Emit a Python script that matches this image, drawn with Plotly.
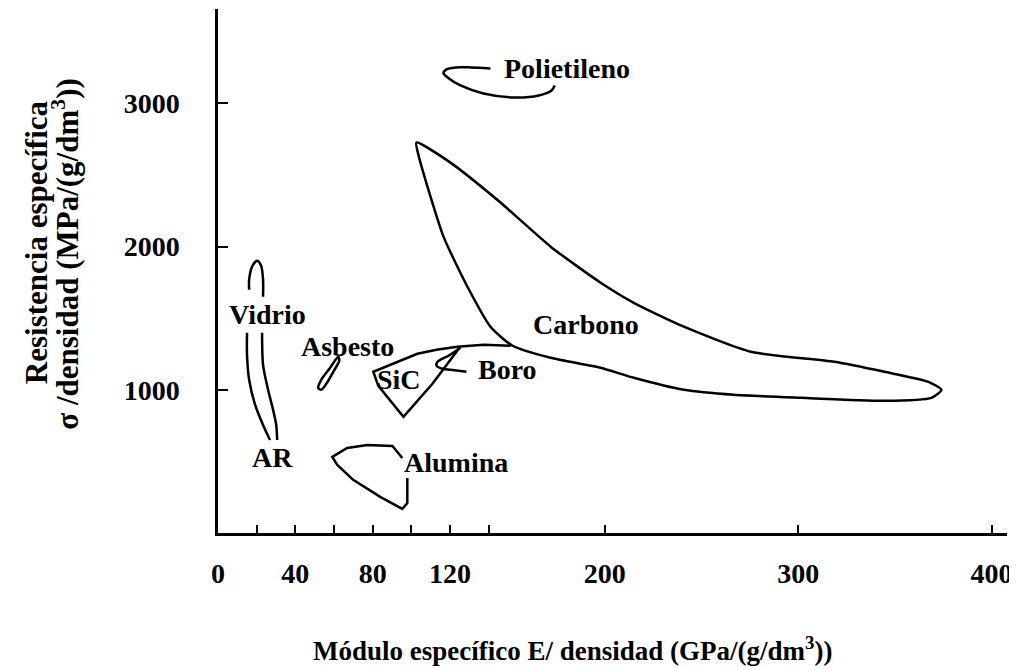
import plotly.graph_objects as go

# ---------------- data ----------------
x_tick_vals = [0, 40, 80, 120, 200, 300, 400]
x_tick_text = ["0", "40", "80", "120", "200", "300", "400"]
x_minor_vals = [20, 60, 100, 140]
y_tick_vals = [1000, 2000, 3000]
y_tick_text = ["1000", "2000", "3000"]

polietileno_x = [140.9, 130.6, 122.8, 118.1, 116.6, 118.7, 125.4, 137.3, 152.8, 165.8, 172.5, 174.1]
polietileno_y = [3245, 3252, 3252, 3238, 3210, 3182, 3126, 3070, 3042, 3056, 3091, 3126]

carbono_x = [102.6, 120.2, 146.1, 172.0, 197.9, 215.0, 240.9, 275.6, 318.7, 344.6, 367.4, 374.1,
             368.9, 344.6, 301.6, 266.8, 240.9, 215.0, 197.9, 172.0, 152.3, 140.9, 129.0, 116.6,
             108.3, 103.6, 102.6]
carbono_y = [2727, 2587, 2308, 2000, 1748, 1608, 1441, 1266, 1196, 1126, 1056, 1000,
             944, 923, 944, 965, 1000, 1084, 1154, 1224, 1308, 1441, 1720, 2070,
             2420, 2643, 2727]

sic_x = [151.3, 137.3, 123.8, 113.0, 103.1, 80.3, 82.9, 95.9, 110.9, 124.5]
sic_y = [1308, 1315, 1301, 1280, 1252, 1126, 1028, 811, 1042, 1287]

boro_x = [125.4, 119.2, 113.5, 113.0, 116.1, 120.2, 128.5]
boro_y = [1294, 1238, 1196, 1168, 1147, 1140, 1126]

asbesto_x = [62.2, 58.0, 53.4, 51.8, 53.4, 56.0, 59.6, 62.7, 62.2]
asbesto_y = [1231, 1154, 1070, 1014, 1000, 1042, 1126, 1203, 1231]

vidrio_x = [16.1, 16.1, 17.6, 20.2, 22.3, 23.3, 23.3]
vidrio_y = [1699, 1769, 1860, 1902, 1867, 1769, 1650]

ar_left_x = [15.0, 15.0, 16.1, 19.2, 23.3, 26.9]
ar_left_y = [1399, 1245, 1070, 895, 755, 650]
ar_right_x = [22.8, 23.3, 25.9, 28.5, 30.1, 30.6]
ar_right_y = [1399, 1175, 1000, 860, 755, 650]

alumina_x = [97.9, 97.9, 95.3, 83.9, 69.9, 61.7, 59.1, 66.8, 77.2, 90.2, 95.3]
alumina_y = [385, 210, 168, 252, 371, 476, 531, 594, 615, 608, 524]

label_text = ["Polietileno", "Carbono", "Boro", "SiC", "Asbesto", "Vidrio", "AR", "Alumina"]
label_x = [147.0, 190.2, 149.5, 93.8, 66.8, 25.4, 28.0, 123.0]
label_y = [3243, 1455, 1140, 1070, 1301, 1524, 524, 489]
label_anchor = ["left", "center", "center", "center", "center", "center", "center", "center"]

x_title = "Módulo específico E/ densidad (GPa/(g/dm<sup>3</sup>))"
y_title_lines = ["Resistencia específica", "σ /densidad (MPa/(g/dm<sup>3</sup>))"]

# ---------------- figure ----------------
FONT = "Liberation Serif"
fig = go.Figure()

def add_curve(xs, ys, shape="spline", smoothing=0.8):
    fig.add_trace(go.Scatter(
        x=xs, y=ys, mode="lines",
        line=dict(color="black", width=2.5, shape=shape, smoothing=smoothing),
        hoverinfo="skip", showlegend=False))

add_curve(polietileno_x, polietileno_y)
add_curve(carbono_x, carbono_y, smoothing=0.6)
add_curve(sic_x, sic_y, shape="linear")
add_curve(boro_x, boro_y)
add_curve(asbesto_x, asbesto_y)
add_curve(vidrio_x, vidrio_y)
add_curve(ar_left_x, ar_left_y)
add_curve(ar_right_x, ar_right_y)
add_curve(alumina_x, alumina_y, shape="linear")

for t, x, y, a in zip(label_text, label_x, label_y, label_anchor):
    fig.add_annotation(x=x, y=y, text=t, showarrow=False, xanchor=a, yanchor="middle",
                       font=dict(family=FONT, size=28, color="black", weight="bold"))

# axis titles (placed as annotations for exact positioning)
fig.add_annotation(xref="paper", yref="paper", x=0.4487, y=-0.221, text=x_title,
                   showarrow=False, xanchor="center", yanchor="middle",
                   font=dict(family=FONT, size=27, color="black", weight="bold"))
for shift, yy, line in zip([-182, -152], [0.555, 0.533], y_title_lines):
    fig.add_annotation(xref="paper", yref="paper", x=0, y=yy, xshift=shift, text=line,
                       textangle=-90, showarrow=False, xanchor="center", yanchor="middle",
                       font=dict(family=FONT, size=31, color="black", weight="bold"))

fig.update_xaxes(
    range=[0, 408], tickmode="array", tickvals=x_tick_vals, ticktext=x_tick_text,
    ticks="inside", ticklen=8, tickwidth=2, tickcolor="black",
    minor=dict(tickmode="array", tickvals=x_minor_vals, ticks="inside", ticklen=8,
               tickwidth=2, tickcolor="black", showgrid=False),
    showline=True, linecolor="black", linewidth=2.5, showgrid=False, zeroline=False,
    ticklabelstandoff=14,
    tickfont=dict(family=FONT, size=28, color="black", weight="bold"),
)
fig.update_yaxes(
    range=[0, 3660], tickmode="array", tickvals=y_tick_vals, ticktext=y_tick_text,
    ticks="inside", ticklen=10, tickwidth=2, tickcolor="black",
    showline=True, linecolor="black", linewidth=2.5, showgrid=False, zeroline=False,
    ticklabelstandoff=30,
    tickfont=dict(family=FONT, size=28, color="black", weight="bold"),
)
# page body has an 8px default margin, so the figure is shrunk and shifted to compensate
fig.update_layout(
    width=1009, height=662,
    margin=dict(l=210, r=10, t=1, b=137, autoexpand=False),
    paper_bgcolor="white", plot_bgcolor="white",
)
fig.write_html("out.html")
